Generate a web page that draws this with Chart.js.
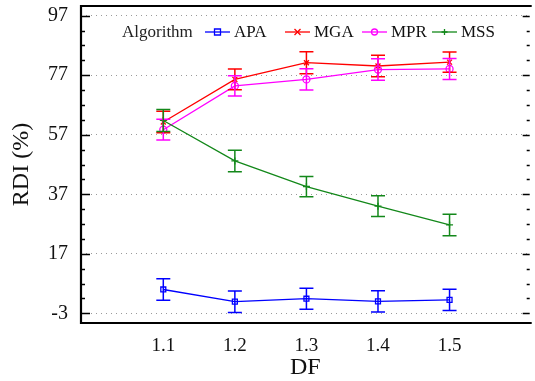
<!DOCTYPE html>
<html>
<head>
<meta charset="utf-8">
<script src="https://cdn.jsdelivr.net/npm/chart.js@4.4.1/dist/chart.umd.min.js"></script>
<style>
  html, body { margin: 0; padding: 0; background: #fff; }
  #wrap { width: 535px; height: 381px; }
</style>
</head>
<body>
<div id="wrap"><canvas id="rdiChart" width="535" height="381"></canvas></div>
<script>
// values
const dfValues = [1.1, 1.2, 1.3, 1.4, 1.5];
const seriesNames = ['APA', 'MGA', 'MPR', 'MSS'];
const apaRdi = [5.0, 0.9, 1.9, 1.0, 1.5];
const apaErr = [3.6, 3.6, 3.5, 3.6, 3.6];
const mgaRdi = [61.3, 75.6, 81.2, 80.1, 81.4];
const mgaErr = [3.6, 3.5, 3.7, 3.6, 3.4];
const mprRdi = [58.7, 73.4, 75.6, 78.9, 79.1];
const mprErr = [3.5, 3.4, 3.6, 3.6, 3.5];
const mssRdi = [61.8, 48.2, 39.6, 33.0, 26.7];
const mssErr = [3.7, 3.6, 3.4, 3.5, 3.6];
const yTicks = [-3, 17, 37, 57, 77, 97];

const serif = '"Liberation Serif", "Times New Roman", serif';
const colors = ['#0000ff', '#ff0000', '#ff00ff', '#13881a'];
const markers = ['rect', 'crossRot', 'circle', 'cross'];
const allRdi = [apaRdi, mgaRdi, mprRdi, mssRdi];
const allErr = [apaErr, mgaErr, mprErr, mssErr];

function toPoints(vals) {
    return vals.map((v, i) => ({ x: dfValues[i], y: v }));
}

const datasets = seriesNames.map((name, k) => ({
    label: name,
    data: toPoints(allRdi[k]),
    errors: allErr[k],
    borderColor: colors[k],
    backgroundColor: colors[k],
    borderWidth: 1.3,
    pointStyle: markers[k],
    pointRadius: 3.5,
    pointBorderWidth: 1.3,
    pointBackgroundColor: 'rgba(0,0,0,0)',
    pointBorderColor: colors[k],
    tension: 0,
    order: 4 - k
}));

function drawMarker(ctx, style, x, y, r) {
    ctx.beginPath();
    if (style === 'rect') {
        ctx.rect(x - r, y - r, 2 * r, 2 * r);
    } else if (style === 'circle') {
        ctx.arc(x, y, r, 0, Math.PI * 2);
    } else if (style === 'crossRot') {
        ctx.moveTo(x - r, y - r); ctx.lineTo(x + r, y + r);
        ctx.moveTo(x - r, y + r); ctx.lineTo(x + r, y - r);
    } else {
        ctx.moveTo(x - r, y); ctx.lineTo(x + r, y);
        ctx.moveTo(x, y - r); ctx.lineTo(x, y + r);
    }
    ctx.stroke();
}

// error bars, drawn from each dataset's errors through the scales
const errorBars = {
    id: 'errorBars',
    afterDatasetsDraw(chart) {
        const ctx = chart.ctx;
        const xs = chart.scales.x, ys = chart.scales.y;
        const area = chart.chartArea;
        ctx.save();
        ctx.beginPath();
        ctx.rect(area.left, area.top, area.right - area.left, area.bottom - area.top);
        ctx.clip();
        chart.data.datasets.forEach((ds) => {
            ctx.strokeStyle = ds.borderColor;
            ctx.lineWidth = 1.5;
            ds.data.forEach((p, i) => {
                const x = xs.getPixelForValue(p.x);
                const yTop = ys.getPixelForValue(p.y + ds.errors[i]);
                const yBot = ys.getPixelForValue(p.y - ds.errors[i]);
                ctx.beginPath();
                ctx.moveTo(x, yTop); ctx.lineTo(x, yBot);
                ctx.moveTo(x - 7, yTop); ctx.lineTo(x + 7, yTop);
                ctx.moveTo(x - 7, yBot); ctx.lineTo(x + 7, yBot);
                ctx.stroke();
            });
        });
        ctx.restore();
    }
};

// frame, inward ticks and the in-plot legend
const frameAndLegend = {
    id: 'frameAndLegend',
    afterDraw(chart) {
        const ctx = chart.ctx;
        const ys = chart.scales.y;
        const a = chart.chartArea;
        ctx.save();
        ctx.strokeStyle = '#000';
        ctx.lineWidth = 2.2;
        ctx.beginPath();
        ctx.moveTo(a.right + 2, a.top);
        ctx.lineTo(a.left, a.top);
        ctx.lineTo(a.left, a.bottom);
        ctx.lineTo(a.right + 2, a.bottom);
        ctx.stroke();

        ctx.lineWidth = 1.6;
        for (let v = -3; v <= 97; v += 5) {
            const y = Math.round(ys.getPixelForValue(v)) + 0.5;
            const major = yTicks.includes(v);
            const len = major ? 9 : 4;
            ctx.beginPath();
            ctx.moveTo(a.left, y); ctx.lineTo(a.left + len, y);
            ctx.moveTo(a.right, y); ctx.lineTo(a.right - (major ? 7 : 3), y);
            ctx.stroke();
        }

        // legend
        const ly = 32;
        ctx.fillStyle = '#222';
        ctx.font = '17px ' + serif;
        ctx.textBaseline = 'middle';
        ctx.textAlign = 'left';
        ctx.fillText('Algorithm', 122, ly + 1);
        const lineX = [205, 285, 362, 432];
        seriesNames.forEach((name, k) => {
            ctx.strokeStyle = colors[k];
            ctx.lineWidth = 1.3;
            ctx.beginPath();
            ctx.moveTo(lineX[k], ly); ctx.lineTo(lineX[k] + 25, ly);
            ctx.stroke();
            drawMarker(ctx, markers[k], lineX[k] + 12.5, ly, 3);
            ctx.fillStyle = '#111';
            ctx.fillText(name, lineX[k] + 29, ly + 1);
        });
        ctx.restore();
    }
};

new Chart(document.getElementById('rdiChart'), {
    type: 'line',
    data: { datasets: datasets },
    options: {
        responsive: false,
        animation: false,
        layout: { padding: { top: 6, right: 0, left: 0, bottom: 0 } },
        plugins: {
            legend: { display: false },
            tooltip: { enabled: false }
        },
        scales: {
            x: {
                type: 'linear',
                min: 0.985,
                max: 1.612,
                afterBuildTicks: (scale) => { scale.ticks = dfValues.map(v => ({ value: v })); },
                afterFit: (scale) => {
                    scale.height = 58;
                    scale.paddingLeft = 0;
                    scale.paddingRight = 0;
                },
                ticks: {
                    color: '#111',
                    font: { family: serif, size: 19 },
                    padding: 4,
                    maxRotation: 0,
                    callback: (v) => v.toFixed(1)
                },
                grid: { display: false },
                border: { display: false },
                title: {
                    display: true,
                    text: 'DF',
                    color: '#111',
                    font: { family: serif, size: 24, lineHeight: 1 },
                    padding: { top: 0, bottom: 1 }
                }
            },
            y: {
                min: -6.26,
                max: 100.26,
                afterBuildTicks: (scale) => { scale.ticks = yTicks.map(v => ({ value: v })); },
                afterFit: (scale) => {
                    scale.width = 81;
                    scale.paddingTop = 0;
                    scale.paddingBottom = 0;
                },
                ticks: {
                    color: '#111',
                    font: { family: serif, size: 20 },
                    padding: 13
                },
                grid: {
                    color: '#9a9a9a',
                    lineWidth: 1,
                    drawTicks: false
                },
                border: { display: false, dash: [1, 4] },
                title: {
                    display: true,
                    text: 'RDI (%)',
                    color: '#111',
                    font: { family: serif, size: 24, lineHeight: 1 },
                    padding: { top: 10, bottom: 0 }
                }
            }
        }
    },
    plugins: [errorBars, frameAndLegend]
});
</script>
</body>
</html>
